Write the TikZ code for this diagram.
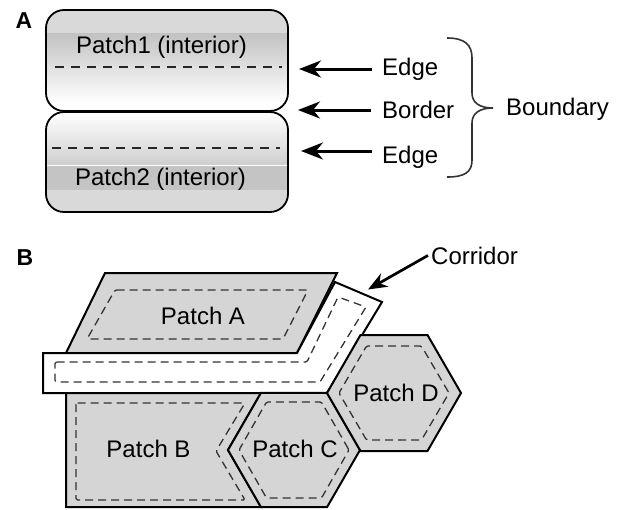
\documentclass[tikz,border=0pt]{standalone}
\usepackage{fontspec}
\setmainfont{Liberation Sans}
\usetikzlibrary{arrows.meta}
\definecolor{patchgray}{RGB}{213,213,213}
\begin{document}
\begin{tikzpicture}[x=1pt,y=-1pt,
  lbl/.style={inner sep=0pt, font=\fontsize{24}{28}\selectfont},
  panel/.style={inner sep=0pt, font=\fontsize{23}{27}\selectfont\bfseries},
  outline/.style={draw=black, line width=2pt, line join=miter},
  patchfill/.style={fill=patchgray},
  innerdash/.style={draw=black!80, line width=1.3pt, dash pattern=on 8pt off 5pt, rounded corners=1.5pt},
  adash/.style={draw=black!85, line width=1.4pt, dash pattern=on 9pt off 7pt},
  bigarrow/.style={line width=3pt, -{Stealth[length=22pt,width=17pt,inset=7pt]}},
  corrarrow/.style={line width=2.7pt, -{Stealth[length=19pt,width=15pt,inset=6pt]}},
  bracestyle/.style={draw=black!80, line width=1.6pt}
]
\useasboundingbox (0,0) rectangle (623,509);

% ---------------- Panel A ----------------
\node[panel, anchor=base] (labA) at (24,28) {A};

\begin{scope}
  \clip[rounded corners=18pt] (46,10) rectangle (288,111);
  \fill[gray!30] (46,10) rectangle (288,33);
  \shade[top color=gray!48, bottom color=white] (46,33) rectangle (288,102);
  \fill[white] (46,101.5) rectangle (288,111);
\end{scope}
\begin{scope}
  \clip[rounded corners=18pt] (46,112) rectangle (288,212);
  \shade[top color=white, bottom color=gray!38] (46,112) rectangle (288,165);
  \fill[gray!46] (46,166) rectangle (288,190);
  \fill[gray!30] (46,190) rectangle (288,212);
  \draw[white, line width=0.8pt] (46,165.5) -- (288,165.5);
\end{scope}
\draw[line width=1.8pt, rounded corners=18pt] (46,10) rectangle (288,111);
\draw[line width=1.8pt, rounded corners=18pt] (46,112) rectangle (288,212);

\draw[adash] (55,67) -- (282,67);
\draw[adash] (52,148) -- (280,148);

\node[lbl, anchor=base] (p1) at (161.5,53) {Patch1 (interior)};
\node[lbl, anchor=base] (p2) at (160.5,185) {Patch2 (interior)};

\node[lbl, anchor=base west] (e1) at (382,75) {Edge};
\node[lbl, anchor=base west] (bd) at (382,118) {Border};
\node[lbl, anchor=base west] (e2) at (382,163) {Edge};
\node[lbl, anchor=base west] (bnd) at (506,115) {Boundary};

\coordinate (t1) at (372,69);  \coordinate (h1) at (299,69);
\coordinate (t2) at (371,110); \coordinate (h2) at (298,110);
\coordinate (t3) at (372,151); \coordinate (h3) at (301,151);
\draw[bigarrow] (t1) -- (h1);
\draw[bigarrow] (t2) -- (h2);
\draw[bigarrow] (t3) -- (h3);

\draw[bracestyle] (447,38) .. controls (465,38) and (472,45) .. (472,58)
  -- (472,93) .. controls (472,103) and (480,108) .. (493,108)
  .. controls (480,108) and (472,113) .. (472,123)
  -- (472,160) .. controls (472,172) and (465,177) .. (447,177);

% ---------------- Panel B ----------------
\node[panel, anchor=base] (labB) at (25,265) {B};

% Patch A
\path[patchfill, outline] (105,273) -- (337,273) -- (297,353) -- (66,353) -- cycle;
\draw[innerdash] (115,290) -- (308,290) -- (283,339) -- (87,339) -- cycle;

% Corridor
\path[fill=white, outline] (43,353) -- (297,353) -- (335,282) -- (382,302) -- (327,393) -- (43,393) -- cycle;
\draw[innerdash] (55,362) -- (307,362) -- (338,297) -- (366,307) -- (320,382) -- (55,382) -- cycle;

% Patch B
\path[patchfill, outline] (66,393) -- (261,393) -- (228,450) -- (261,507) -- (66,507) -- cycle;
\draw[innerdash] (76,403) -- (245,403) -- (216,451) -- (245,500) -- (76,500) -- cycle;

% Patch C
\path[patchfill, outline] (360,450) -- (327,392.8) -- (261,392.8) -- (228,450) -- (261,507.2) -- (327,507.2) -- cycle;
\draw[innerdash] (349,450) -- (321.5,402) -- (266.5,402) -- (239,450) -- (266.5,498) -- (321.5,498) -- cycle;

% Patch D
\path[patchfill, outline] (461,393) -- (427.5,335) -- (360.5,335) -- (327,393) -- (360.5,451) -- (427.5,451) -- cycle;
\draw[innerdash] (449,393) -- (421.5,346) -- (366.5,346) -- (339,393) -- (366.5,440) -- (421.5,440) -- cycle;

\node[lbl, anchor=base] (pa) at (203,324.5) {Patch A};
\node[lbl, anchor=base] (pb) at (148.5,457) {Patch B};
\node[lbl, anchor=base] (pc) at (295,457) {Patch C};
\node[lbl, anchor=base] (pd) at (396,401.5) {Patch D};

\node[lbl, anchor=base west] (corr) at (431,264) {Corridor};
\coordinate (ch) at (368,289.5);
\draw[corrarrow] ([xshift=-3pt]corr.west) -- (ch);
\end{tikzpicture}
\end{document}
